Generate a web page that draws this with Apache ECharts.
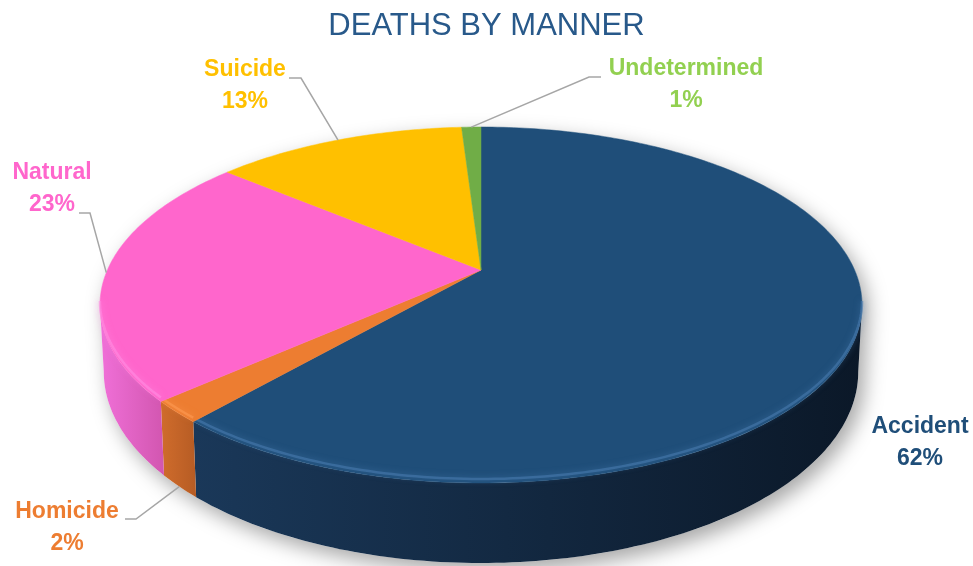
<!DOCTYPE html>
<html>
<head>
<meta charset="utf-8">
<script src="https://cdn.jsdelivr.net/npm/echarts@6/dist/echarts.min.js"></script>
<style>
  html, body { margin: 0; padding: 0; background: #fff; }
  #main { width: 973px; height: 566px; }
</style>
</head>
<body>
<div id="main"></div>
<script>
// data, clockwise from 12 o'clock
const categories = ['Accident', 'Homicide', 'Natural', 'Suicide', 'Undetermined'];
const percents = [62, 2, 23, 13, 1];

// styling
const topColors = ['#1F4E79', '#ED7D31', '#FF66CC', '#FFC000', '#70AD47'];
const sideColors = [['#1A3859', '#0B1828'], ['#D06C2C', '#B65C24'], ['#F070D8', '#D256B0'], ['#D9A400', '#C79600'], ['#5E9639', '#4F8030']];
const rimColors = ['#4A7EB2', '#FF9C55', '#FF8FE4', '#FFD24D', '#8CC866'];
const labelColors = ['#1F4E79', '#ED7D31', '#FF66CC', '#FFC000', '#92D050'];
// label block centres and leader bends (layout only)
const labelAt = [[920, 443], [67, 528], [52, 189], [245, 86], [686, 85]];
const leaderBend = [null, [[136, 519], [125, 519]], [[90, 213], [79, 213]], [[301, 78], [289, 78]], [[589, 77], [601, 77]]];

// fake 3d projection of the disc
const CX = 481, CY = 270, RX = 373.6, RY = 171.1, PERSP = 0.1966, DEPTH = 64.3;
const VIS0 = Math.acos(-PERSP) * 180 / Math.PI;   // right silhouette
const VIS1 = 360 - VIS0;                          // left silhouette

function proj(deg, down) {
  const t = deg * Math.PI / 180;
  const X = Math.sin(t), Z = -Math.cos(t);
  const k = 1 - PERSP * Z;
  let x = CX + RX * X / k;
  let y = CY + RY * Z / k;
  if (down) {
    x = CX + (x - CX) * 0.99;
    y += DEPTH / k;
  }
  return [x, y];
}

function arc(a, b, down) {
  const pts = [];
  const n = Math.max(2, Math.ceil(Math.abs(b - a)));
  for (let i = 0; i <= n; i++) pts.push(proj(a + (b - a) * i / n, down));
  return pts;
}

const total = percents.reduce((s, v) => s + v, 0);
const starts = [];
let acc = 0;
percents.forEach(v => { starts.push(acc / total * 360); acc += v; });

function renderSlice(params, api) {
  const i = params.dataIndex;
  const a = starts[i];
  const b = a + api.value(0) / total * 360;
  const children = [];

  if (i === 0) {
    // soft drop shadow under the whole pie
    const outline = arc(VIS1, 360 + VIS0, false).concat(arc(VIS0, VIS1, true));
    children.push({
      type: 'polygon', shape: { points: outline },
      style: { fill: '#fff', shadowBlur: 20, shadowColor: 'rgba(0,0,0,0.35)', shadowOffsetX: 6, shadowOffsetY: 8 }
    });
  }

  // side wall, only the part facing the viewer
  const s0 = Math.max(a, VIS0), s1 = Math.min(b, VIS1);
  if (s1 > s0) {
    const pts = arc(s0, s1, false).concat(arc(s1, s0, true));
    const xs = pts.map(p => p[0]);
    children.push({
      type: 'polygon', shape: { points: pts },
      style: {
        fill: new echarts.graphic.LinearGradient(Math.min(...xs), 0, Math.max(...xs), 0, [
          { offset: 0, color: sideColors[i][0] },
          { offset: 1, color: sideColors[i][1] }
        ], true)
      }
    });
  }

  // top face
  children.push({
    type: 'polygon',
    shape: { points: [[CX, CY]].concat(arc(a, b, false)) },
    style: { fill: topColors[i], stroke: topColors[i], lineWidth: 0.5 }
  });

  // soft bevel highlight along the front rim
  if (s1 > s0) {
    children.push({
      type: 'polyline',
      shape: { points: arc(s0, s1, false).map(p => [p[0], p[1] - 4]) },
      style: { stroke: rimColors[i], lineWidth: 2.5, fill: null, opacity: 0.55, shadowBlur: 6, shadowColor: rimColors[i] }
    });
  }

  // leader line
  if (leaderBend[i]) {
    const mid = (a + b) / 2;
    const front = mid > VIS0 && mid < VIS1;
    const anchor = proj(mid, front);
    children.push({
      type: 'polyline',
      shape: { points: [anchor, leaderBend[i][0], leaderBend[i][1]] },
      style: { stroke: '#A6A6A6', lineWidth: 1.5, fill: null }
    });
  }

  // data label
  children.push({
    type: 'text',
    x: labelAt[i][0], y: labelAt[i][1],
    style: {
      text: categories[i] + '\n' + api.value(0) + '%',
      fill: labelColors[i],
      fontSize: 23, fontWeight: 'bold', fontFamily: 'Liberation Sans',
      lineHeight: 32, align: 'center', verticalAlign: 'middle'
    }
  });

  return { type: 'group', children };
}

const chart = echarts.init(document.getElementById('main'));
chart.setOption({
  backgroundColor: '#fff',
  animation: false,
  title: {
    text: 'DEATHS BY MANNER',
    left: 'center',
    top: 6,
    textStyle: { fontSize: 31, fontWeight: 'normal', color: '#28598A', fontFamily: 'Liberation Sans' }
  },
  series: [{
    type: 'custom',
    coordinateSystem: 'none',
    silent: true,
    data: percents.map((v, i) => ({ name: categories[i], value: v })),
    renderItem: renderSlice
  }]
});
</script>
</body>
</html>
